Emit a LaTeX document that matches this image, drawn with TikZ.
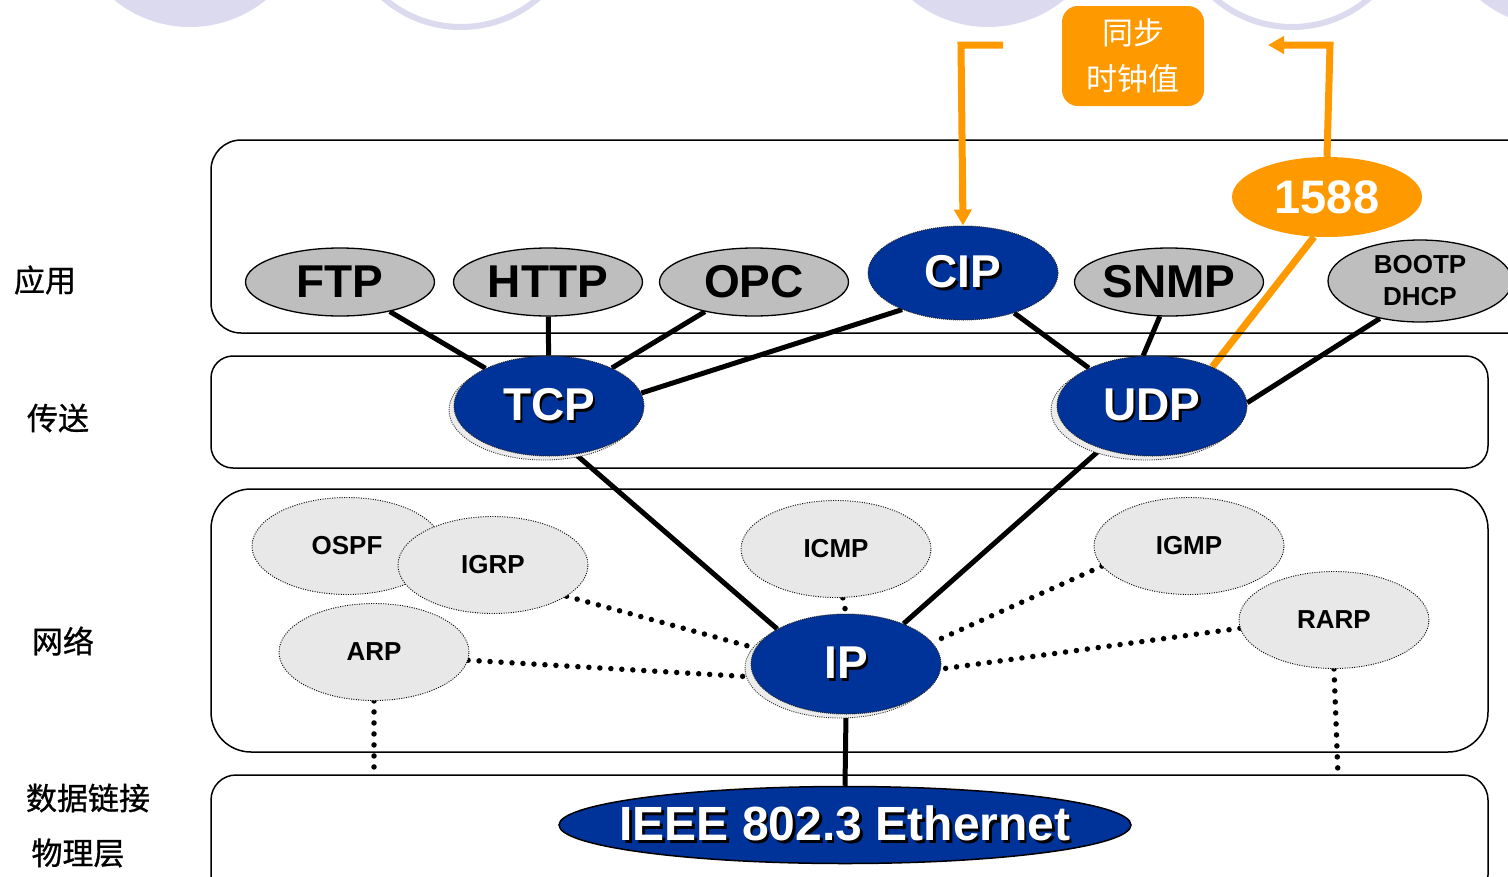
\documentclass[tikz,border=0pt]{standalone}
\usepackage{fontspec}
\setmainfont{Liberation Sans}
\newfontfamily\cjk{Noto Sans CJK SC}
\newfontfamily\cjkm{Noto Sans CJK SC}[FakeBold=0.9]
\usetikzlibrary{shapes.geometric,arrows.meta}
\definecolor{lav}{RGB}{220,218,238}
\definecolor{ieblue}{RGB}{0,51,153}
\definecolor{appgray}{RGB}{190,190,190}
\definecolor{netgray}{RGB}{232,232,232}
\definecolor{shadgray}{RGB}{236,236,236}
\definecolor{orng}{RGB}{255,153,0}
\newcommand\fs[1]{\fontsize{#1}{#1}\selectfont}
\newcommand\shtxt[1]{\rlap{\kern2.5pt\raisebox{-2.5pt}{\color{black}#1}}{\color{white}#1}}
\pgfdeclarelayer{bg}
\pgfsetlayers{bg,main}
\begin{document}
\begin{tikzpicture}[x=1pt,y=-1pt,
  layerbox/.style={draw=black, line width=1.5pt},
  lbl/.style={font=\cjkm\fs{31}, inner sep=0pt},
  appnode/.style={ellipse, draw=black, line width=1.3pt, fill=appgray, inner sep=0pt,
     minimum width=189pt, minimum height=68pt, font=\fs{46}\bfseries},
  bluenode/.style={ellipse, fill=ieblue, draw=black!85, line width=1pt, dash pattern=on 1pt off 1pt,
     inner sep=0pt, minimum width=190pt, minimum height=100pt, font=\fs{46}\bfseries},
  netnode/.style={ellipse, fill=netgray, draw=black, line width=0.9pt, dash pattern=on 1pt off 1.4pt,
     inner sep=0pt, minimum width=190pt, minimum height=97pt, font=\fs{26}\bfseries},
  shad/.style={fill=shadgray, draw=black!80, line width=0.9pt, dash pattern=on 1pt off 1.2pt},
  conn/.style={draw=black, line width=5pt},
  dotconn/.style={draw=black, line width=5.5pt, line cap=round, dash pattern=on 0pt off 11pt},
  oline/.style={draw=orng, line width=7pt}
]
\useasboundingbox (0,0) rectangle (1508,876);
\clip (0,0) rectangle (1508,876);

% decorative circles at top
\fill[lav] (190,-93) circle[radius=120];
\draw[lav, line width=6pt] (461,-91) circle[radius=118];
\fill[lav] (988,-93) circle[radius=120];
\draw[lav, line width=6pt] (1292,-91) circle[radius=118];
\fill[lav] (1556,-93) circle[radius=120];

% layer boxes
\draw[layerbox, rounded corners=30pt] (211,140) rectangle (1540,333);
\draw[layerbox, rounded corners=22pt] (211,356) rectangle (1488,468);
\draw[layerbox, rounded corners=40pt] (211,489) rectangle (1488,752);
\draw[layerbox, rounded corners=25pt] (211,775) rectangle (1488,900);

% layer labels
\node[lbl] (lapp) at (45,280) {应用};
\node[lbl] (ltra) at (58,418) {传送};
\node[lbl] (lnet) at (63,641) {网络};
\node[lbl] (ldl)  at (88,798) {数据链接};
\node[lbl] (lphy) at (78,853) {物理层};

% application nodes
\node[appnode] (ftp)  at (340,282) {FTP};
\node[appnode] (http) at (548,282) {HTTP};
\node[appnode] (opc)  at (754,282) {OPC};
\node[appnode] (snmp) at (1169,282) {SNMP};
\node[appnode, minimum width=184pt, minimum height=82pt, font=\fontsize{26}{32}\selectfont\bfseries, align=center]
  (bootp) at (1420,281) {BOOTP\\DHCP};
\node[bluenode, minimum height=94pt] (cip) at (963,273) {\shtxt{CIP}};

% transport
\draw[shad] (544,410) ellipse[x radius=95, y radius=50];
\node[bluenode] (tcp) at (549,406) {\shtxt{TCP}};
\draw[shad] (1146,410) ellipse[x radius=95, y radius=50];
\node[bluenode] (udp) at (1152,406) {\shtxt{UDP}};

% network
\node[netnode] (ospf) at (347,546) {OSPF};
\node[netnode] (igrp) at (493,565) {IGRP};
\node[netnode] (icmp) at (836,549) {ICMP};
\node[netnode] (igmp) at (1189,546) {IGMP};
\node[netnode] (arp)  at (374,652) {ARP};
\node[netnode] (rarp) at (1334,620) {RARP};
\draw[shad] (840,668) ellipse[x radius=95, y radius=50];
\node[bluenode] (ip) at (846,664) {\shtxt{IP}};

% data link / physical
\node[ellipse, fill=ieblue, draw=black, line width=1.5pt, inner sep=0pt,
  minimum width=572pt, minimum height=77pt, font=\fs{48}\bfseries]
  (eth) at (845,825) {\makebox[0pt]{\shtxt{IEEE 802.3 Ethernet}}};

% 1588 and sync box
\node[ellipse, fill=orng, inner sep=0pt, minimum width=190pt, minimum height=80pt,
  text=white, font=\fs{47}\bfseries] (p1588) at (1327,197) {1588};
\node[fill=orng, rounded corners=16pt, minimum width=142pt, minimum height=100pt,
  inner sep=0pt, align=center, text=white, font=\cjk\fontsize{31}{46}\selectfont]
  (sync) at (1133,56) {同步\\时钟值};

\coordinate (lstart) at (1003,45);
\coordinate (lcorner) at (961,45);
\coordinate (rcorner) at (1330,45);
\coordinate (rend) at (1268,45);
\coordinate (arpd) at (374,775);
\coordinate (rarpd) at (1338,775);

\begin{pgfonlayer}{bg}
  \draw[conn] (ftp) -- (tcp);
  \draw[conn] (http) -- (tcp);
  \draw[conn] (opc) -- (tcp);
  \draw[conn] (cip.211) -- (tcp.8);
  \draw[conn] (cip.322) -- (udp.149);
  \draw[conn] (snmp.255) -- (udp.100);
  \draw[conn] (bootp.223) -- (udp.2);
  \draw[conn] (tcp.299) -- (ip.153);
  \draw[conn] (udp.220) -- (ip.35);
  \draw[conn] (ip.south) -- (eth.north);
  \draw[dotconn] (igrp.337) -- (ip.170);
  \draw[dotconn] (arp.355) -- (ip.188);
  \draw[dotconn] (icmp.278) -- (ip.north);
  \draw[dotconn] (igmp.193) -- (ip.14);
  \draw[dotconn] (rarp.185) -- (ip.357);
  \draw[dotconn] (arp.south) -- (arpd);
  \draw[dotconn] (rarp.south) -- (rarpd);
  \draw[oline] (p1588.252) -- (udp.33);
\end{pgfonlayer}

% orange arrows
\draw[oline, -{Triangle[length=16pt,width=17pt]}] (lstart) -- (lcorner) -- (cip.north);
\draw[oline, -{Triangle[length=16pt,width=17pt]}] (p1588.north) -- (rcorner) -- (rend);
\end{tikzpicture}
\end{document}
